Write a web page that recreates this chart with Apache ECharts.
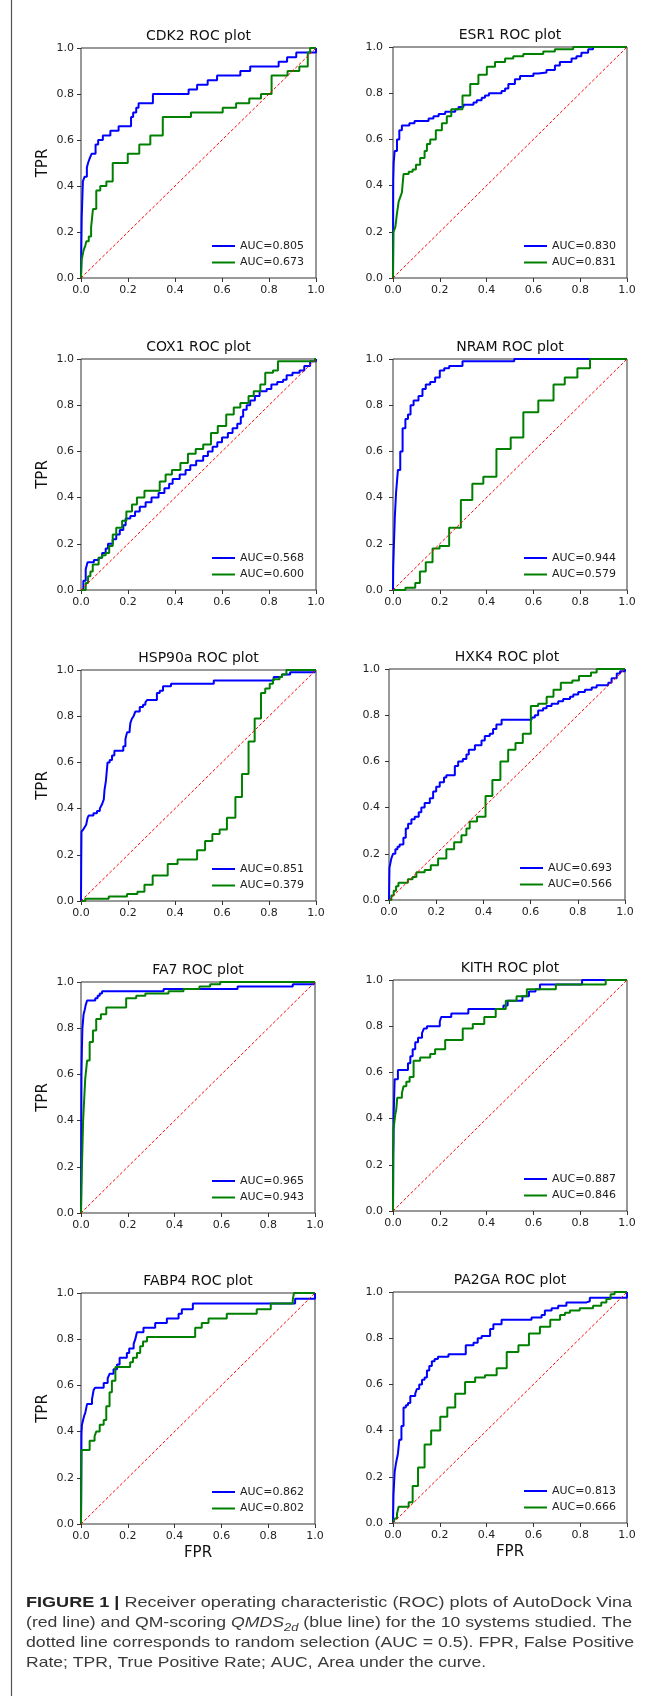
<!DOCTYPE html>
<html>
<head>
<meta charset="utf-8">
<script src="https://cdn.jsdelivr.net/npm/echarts@6/dist/echarts.min.js"></script>
<style>html,body{margin:0;padding:0;background:#fff}#c{width:655px;height:1696px}</style>
</head>
<body>
<div id="c"></div>
<script>
// ---------- data ----------
const panelTitles = ['CDK2 ROC plot','ESR1 ROC plot','COX1 ROC plot','NRAM ROC plot','HSP90a ROC plot','HXK4 ROC plot','FA7 ROC plot','KITH ROC plot','FABP4 ROC plot','PA2GA ROC plot'];
const blueAUC  = ['AUC=0.805','AUC=0.830','AUC=0.568','AUC=0.944','AUC=0.851','AUC=0.693','AUC=0.965','AUC=0.887','AUC=0.862','AUC=0.813'];
const greenAUC = ['AUC=0.673','AUC=0.831','AUC=0.600','AUC=0.579','AUC=0.379','AUC=0.566','AUC=0.943','AUC=0.846','AUC=0.802','AUC=0.666'];
const tickLabels = ['0.0','0.2','0.4','0.6','0.8','1.0'];
const randomLine = [[0,0],[1,1]];

const cdk2Blue = [[0,0],[0.001,0.1],[0.003,0.26],[0.008,0.42],[0.015,0.44],[0.025,0.48],[0.03,0.5],[0.037,0.52],[0.045,0.54],[0.062,0.58],[0.073,0.6],[0.093,0.62],[0.125,0.64],[0.16,0.66],[0.213,0.7],[0.222,0.72],[0.235,0.74],[0.245,0.76],[0.306,0.8],[0.458,0.82],[0.494,0.84],[0.539,0.86],[0.579,0.88],[0.678,0.9],[0.72,0.92],[0.841,0.94],[0.877,0.96],[0.916,0.98],[1,1]];
const cdk2Green = [[0,0],[0.003,0.08],[0.011,0.12],[0.018,0.14],[0.023,0.16],[0.033,0.18],[0.043,0.22],[0.047,0.26],[0.051,0.3],[0.065,0.38],[0.082,0.4],[0.108,0.42],[0.135,0.5],[0.199,0.54],[0.248,0.58],[0.295,0.62],[0.348,0.7],[0.468,0.72],[0.603,0.74],[0.66,0.76],[0.716,0.78],[0.766,0.8],[0.811,0.88],[0.879,0.9],[0.929,0.92],[0.965,0.98],[0.975,1],[1,1]];

const esr1Blue = [[0,0],[0.001,0.42],[0.003,0.5],[0.007,0.55],[0.017,0.6],[0.027,0.64],[0.038,0.66],[0.07,0.67],[0.092,0.68],[0.152,0.69],[0.173,0.7],[0.195,0.71],[0.223,0.72],[0.266,0.73],[0.28,0.74],[0.301,0.75],[0.344,0.76],[0.358,0.77],[0.379,0.78],[0.393,0.79],[0.41,0.8],[0.464,0.81],[0.479,0.82],[0.493,0.84],[0.521,0.86],[0.543,0.875],[0.6,0.885],[0.621,0.89],[0.656,0.9],[0.692,0.92],[0.713,0.935],[0.763,0.95],[0.784,0.96],[0.805,0.975],[0.834,0.99],[0.855,1],[1,1]];
const esr1Green = [[0,0],[0.002,0.2],[0.01,0.22],[0.017,0.28],[0.024,0.33],[0.031,0.35],[0.038,0.37],[0.045,0.45],[0.067,0.46],[0.084,0.47],[0.098,0.49],[0.116,0.52],[0.135,0.55],[0.145,0.58],[0.159,0.6],[0.183,0.64],[0.209,0.67],[0.23,0.7],[0.249,0.73],[0.297,0.79],[0.33,0.84],[0.365,0.88],[0.401,0.915],[0.436,0.935],[0.479,0.95],[0.514,0.96],[0.557,0.97],[0.642,0.98],[0.692,0.99],[0.77,1],[1,1]];

const cox1Blue = [[0,0],[0.01,0.04],[0.02,0.09],[0.028,0.12],[0.055,0.13],[0.075,0.14],[0.09,0.16],[0.105,0.18],[0.115,0.2],[0.135,0.22],[0.15,0.24],[0.165,0.26],[0.18,0.28],[0.19,0.31],[0.21,0.32],[0.23,0.34],[0.25,0.36],[0.275,0.38],[0.3,0.4],[0.33,0.42],[0.355,0.44],[0.375,0.46],[0.39,0.48],[0.42,0.5],[0.445,0.52],[0.465,0.54],[0.49,0.56],[0.52,0.58],[0.54,0.6],[0.56,0.62],[0.58,0.64],[0.6,0.66],[0.625,0.68],[0.645,0.7],[0.665,0.72],[0.68,0.75],[0.69,0.78],[0.705,0.8],[0.72,0.82],[0.74,0.84],[0.76,0.86],[0.79,0.87],[0.81,0.89],[0.835,0.9],[0.86,0.91],[0.875,0.93],[0.9,0.94],[0.93,0.95],[0.95,0.97],[0.975,0.99],[1,1]];
const cox1Green = [[0,0],[0.02,0.03],[0.03,0.06],[0.04,0.08],[0.05,0.11],[0.075,0.14],[0.09,0.15],[0.105,0.16],[0.12,0.19],[0.135,0.24],[0.15,0.27],[0.175,0.3],[0.193,0.34],[0.217,0.37],[0.238,0.4],[0.27,0.43],[0.335,0.47],[0.36,0.5],[0.387,0.52],[0.423,0.55],[0.455,0.59],[0.488,0.61],[0.52,0.63],[0.553,0.68],[0.582,0.71],[0.618,0.76],[0.65,0.79],[0.678,0.81],[0.713,0.84],[0.735,0.86],[0.763,0.89],[0.784,0.94],[0.817,0.95],[0.838,0.99],[0.995,1],[1,1]];

const nramBlue = [[0,0],[0.001,0.1],[0.004,0.2],[0.008,0.32],[0.013,0.42],[0.021,0.52],[0.031,0.6],[0.041,0.7],[0.053,0.74],[0.064,0.76],[0.075,0.8],[0.088,0.82],[0.109,0.84],[0.126,0.87],[0.14,0.89],[0.159,0.9],[0.18,0.92],[0.2,0.95],[0.219,0.96],[0.24,0.97],[0.297,0.99],[0.518,1],[1,1]];
const nramGreen = [[0,0],[0.053,0.01],[0.095,0.03],[0.115,0.08],[0.14,0.12],[0.169,0.18],[0.199,0.19],[0.24,0.27],[0.29,0.39],[0.339,0.46],[0.386,0.49],[0.442,0.61],[0.503,0.66],[0.557,0.77],[0.621,0.82],[0.686,0.89],[0.734,0.92],[0.788,0.96],[0.842,1],[1,1]];

const hsp90aBlue = [[0,0],[0.001,0.18],[0.002,0.3],[0.01,0.31],[0.016,0.32],[0.022,0.33],[0.028,0.36],[0.033,0.37],[0.053,0.38],[0.068,0.39],[0.08,0.4],[0.085,0.41],[0.09,0.42],[0.097,0.44],[0.1,0.48],[0.106,0.52],[0.113,0.6],[0.122,0.61],[0.132,0.63],[0.142,0.65],[0.18,0.67],[0.189,0.7],[0.196,0.73],[0.207,0.74],[0.21,0.77],[0.217,0.79],[0.224,0.8],[0.231,0.82],[0.25,0.84],[0.264,0.85],[0.274,0.86],[0.281,0.87],[0.323,0.9],[0.335,0.91],[0.349,0.93],[0.383,0.94],[0.565,0.955],[0.82,0.97],[0.855,0.98],[0.89,0.99],[0.995,1],[1,1]];
const hsp90aGreen = [[0,0],[0.018,0.01],[0.118,0.02],[0.196,0.03],[0.24,0.04],[0.27,0.07],[0.305,0.11],[0.369,0.16],[0.411,0.18],[0.494,0.22],[0.528,0.26],[0.559,0.29],[0.59,0.31],[0.621,0.36],[0.657,0.45],[0.685,0.55],[0.713,0.69],[0.739,0.79],[0.766,0.9],[0.784,0.92],[0.803,0.94],[0.817,0.96],[0.845,0.97],[0.855,0.98],[0.874,1],[1,1]];

const hxk4Blue = [[0,0],[0.001,0.07],[0.002,0.14],[0.01,0.18],[0.017,0.2],[0.027,0.22],[0.036,0.23],[0.045,0.24],[0.061,0.27],[0.071,0.31],[0.081,0.33],[0.095,0.35],[0.109,0.36],[0.126,0.38],[0.137,0.4],[0.151,0.42],[0.173,0.44],[0.187,0.47],[0.2,0.49],[0.215,0.51],[0.233,0.53],[0.243,0.54],[0.279,0.58],[0.293,0.6],[0.313,0.61],[0.328,0.63],[0.338,0.65],[0.364,0.67],[0.392,0.69],[0.406,0.71],[0.427,0.72],[0.441,0.74],[0.455,0.76],[0.477,0.78],[0.604,0.79],[0.618,0.8],[0.632,0.82],[0.653,0.83],[0.668,0.84],[0.689,0.85],[0.717,0.86],[0.738,0.87],[0.767,0.88],[0.781,0.89],[0.802,0.9],[0.83,0.91],[0.859,0.92],[0.88,0.93],[0.929,0.94],[0.943,0.96],[0.965,0.98],[0.979,0.99],[1,1]];
const hxk4Green = [[0,0],[0.01,0.02],[0.02,0.04],[0.03,0.06],[0.04,0.075],[0.08,0.09],[0.1,0.1],[0.116,0.12],[0.151,0.13],[0.177,0.15],[0.208,0.18],[0.243,0.22],[0.276,0.25],[0.307,0.28],[0.328,0.31],[0.342,0.34],[0.373,0.36],[0.409,0.45],[0.438,0.52],[0.472,0.6],[0.505,0.65],[0.536,0.68],[0.567,0.72],[0.601,0.84],[0.632,0.85],[0.668,0.88],[0.697,0.91],[0.728,0.94],[0.777,0.95],[0.805,0.97],[0.856,0.985],[0.88,1],[1,1]];

const fa7Blue = [[0,0],[0.001,0.3],[0.002,0.6],[0.004,0.72],[0.006,0.8],[0.011,0.86],[0.016,0.88],[0.02,0.9],[0.026,0.92],[0.061,0.93],[0.071,0.94],[0.08,0.95],[0.09,0.96],[0.353,0.97],[0.669,0.98],[0.905,0.99],[0.995,1],[1,1]];
const fa7Green = [[0,0],[0.004,0.2],[0.009,0.4],[0.014,0.5],[0.018,0.58],[0.026,0.66],[0.037,0.74],[0.051,0.79],[0.065,0.84],[0.085,0.86],[0.108,0.89],[0.193,0.93],[0.236,0.94],[0.275,0.95],[0.374,0.96],[0.438,0.97],[0.506,0.98],[0.552,0.99],[0.595,1],[1,1]];

const kithBlue = [[0,0],[0.001,0.25],[0.002,0.3],[0.003,0.42],[0.007,0.57],[0.021,0.61],[0.064,0.64],[0.074,0.67],[0.084,0.7],[0.095,0.73],[0.107,0.75],[0.124,0.77],[0.132,0.79],[0.145,0.8],[0.2,0.82],[0.206,0.84],[0.249,0.855],[0.322,0.875],[0.472,0.89],[0.49,0.91],[0.553,0.93],[0.581,0.95],[0.609,0.96],[0.628,0.98],[0.808,1],[1,1]];
const kithGreen = [[0,0],[0.001,0.2],[0.002,0.35],[0.004,0.37],[0.01,0.42],[0.014,0.44],[0.018,0.49],[0.038,0.51],[0.045,0.54],[0.057,0.56],[0.071,0.58],[0.088,0.65],[0.116,0.665],[0.159,0.68],[0.18,0.7],[0.223,0.74],[0.298,0.79],[0.341,0.81],[0.39,0.84],[0.439,0.875],[0.482,0.91],[0.528,0.93],[0.572,0.96],[0.696,0.98],[0.909,1],[1,1]];

const fabp4Blue = [[0,0],[0.001,0.2],[0.002,0.39],[0.004,0.43],[0.009,0.45],[0.014,0.47],[0.018,0.48],[0.026,0.52],[0.047,0.54],[0.054,0.58],[0.06,0.59],[0.097,0.61],[0.114,0.63],[0.122,0.65],[0.139,0.67],[0.154,0.69],[0.165,0.72],[0.196,0.74],[0.206,0.76],[0.225,0.78],[0.232,0.8],[0.239,0.83],[0.267,0.85],[0.317,0.87],[0.367,0.89],[0.417,0.91],[0.431,0.93],[0.478,0.955],[0.915,0.975],[1,1]];
const fabp4Green = [[0,0],[0.001,0.15],[0.002,0.32],[0.037,0.36],[0.058,0.38],[0.065,0.4],[0.08,0.43],[0.097,0.45],[0.108,0.51],[0.122,0.57],[0.132,0.62],[0.147,0.68],[0.21,0.7],[0.222,0.72],[0.239,0.74],[0.253,0.77],[0.265,0.79],[0.282,0.81],[0.488,0.85],[0.516,0.87],[0.545,0.89],[0.623,0.91],[0.751,0.93],[0.811,0.955],[0.905,0.97],[0.91,1],[1,1]];

const pa2gaBlue = [[0,0],[0.001,0.06],[0.002,0.12],[0.007,0.22],[0.013,0.26],[0.021,0.3],[0.027,0.36],[0.036,0.42],[0.045,0.5],[0.055,0.51],[0.064,0.52],[0.074,0.55],[0.095,0.56],[0.102,0.58],[0.112,0.6],[0.124,0.62],[0.135,0.63],[0.145,0.66],[0.155,0.68],[0.166,0.7],[0.178,0.71],[0.192,0.72],[0.237,0.73],[0.311,0.77],[0.344,0.78],[0.362,0.8],[0.379,0.81],[0.415,0.84],[0.429,0.86],[0.464,0.88],[0.592,0.89],[0.635,0.9],[0.649,0.92],[0.678,0.93],[0.706,0.94],[0.741,0.955],[0.827,0.96],[0.841,0.975],[1,1]];
const pa2gaGreen = [[0,0],[0.007,0.02],[0.017,0.04],[0.024,0.07],[0.067,0.09],[0.084,0.16],[0.107,0.24],[0.135,0.34],[0.163,0.4],[0.202,0.46],[0.232,0.5],[0.266,0.56],[0.308,0.61],[0.351,0.63],[0.393,0.64],[0.443,0.67],[0.486,0.74],[0.536,0.77],[0.581,0.82],[0.628,0.85],[0.672,0.88],[0.714,0.9],[0.735,0.91],[0.756,0.92],[0.798,0.93],[0.855,0.94],[0.89,0.955],[0.912,0.97],[0.93,0.99],[0.947,1],[1,1]];

const blueCurves  = [cdk2Blue, esr1Blue, cox1Blue, nramBlue, hsp90aBlue, hxk4Blue, fa7Blue, kithBlue, fabp4Blue, pa2gaBlue];
const greenCurves = [cdk2Green, esr1Green, cox1Green, nramGreen, hsp90aGreen, hxk4Green, fa7Green, kithGreen, fabp4Green, pa2gaGreen];

const captionLines = [
  '{b|FIGURE 1 |} Receiver operating characteristic (ROC) plots of AutoDock Vina',
  '(red line) and QM-scoring {i|QMDS}{s|2d} (blue line) for the 10 systems studied. The',
  'dotted line corresponds to random selection (AUC = 0.5). FPR, False Positive',
  'Rate; TPR, True Positive Rate; AUC, Area under the curve.'
];

// ---------- layout ----------
const layout = [
  [81,48,235,230],[393,47,234,231],
  [81,359,235,231],[393,359,234,231],
  [81,670,235,231],[389,669,236,231],
  [81,982,234,231],[393,980,234,231],
  [81,1293,234,231],[393,1292,234,231]
];
const FONT = 'DejaVu Sans';
const CAP_FONT = 'Liberation Sans';
const BLUE = '#0000ff', GREEN = '#008000', RED = '#ff0000';

const grids = [], xAxes = [], yAxes = [], legends = [], series = [], graphics = [];

layout.forEach(([l, t, w, h], i) => {
  const rightCol = i % 2 === 1;
  grids.push({left: l, top: t, width: w, height: h, show: true, borderColor: '#333', borderWidth: 1,
    backgroundColor: 'transparent', containLabel: false, outerBoundsMode: 'none'});
  const common = {
    type: 'value', min: 0, max: 1, interval: 0.2, gridIndex: i,
    axisLine: {show: false}, splitLine: {show: false},
    axisTick: {show: true, inside: false, length: 4, lineStyle: {color: '#333', width: 1}},
  };
  xAxes.push(Object.assign({}, common, {
    axisLabel: {fontSize: 11, fontFamily: FONT, color: '#222', margin: 7,
      formatter: v => tickLabels[Math.round(v * 5)]}
  }));
  yAxes.push(Object.assign({}, common, {
    axisLabel: {fontSize: 11, fontFamily: FONT, color: '#222', margin: rightCol ? (i === 5 ? 9 : 10) : 7,
      formatter: v => tickLabels[Math.round(v * 5)]}
  }));
  legends.push({
    data: [blueAUC[i], greenAUC[i]], orient: 'vertical', left: l + 131, top: t + h - 32 - 5.5,
    padding: 0, itemGap: 5.5, itemWidth: 23, itemHeight: 2, icon: 'rect', selectedMode: false,
    textStyle: {fontSize: 11, fontFamily: FONT, color: '#222'}
  });
  series.push({type: 'line', name: blueAUC[i], xAxisIndex: i, yAxisIndex: i, data: blueCurves[i],
    step: 'end', symbol: 'none', color: BLUE, lineStyle: {color: BLUE, width: 2}, z: 2, silent: true});
  series.push({type: 'line', name: greenAUC[i], xAxisIndex: i, yAxisIndex: i, data: greenCurves[i],
    step: 'end', symbol: 'none', color: GREEN, lineStyle: {color: GREEN, width: 2}, z: 2, silent: true});
  series.push({type: 'line', xAxisIndex: i, yAxisIndex: i, data: randomLine, symbol: 'none',
    lineStyle: {color: RED, width: 1, type: [3, 2]}, z: 3, silent: true});

  graphics.push({type: 'text', x: l + w / 2, y: t - 11.7, silent: true,
    style: {text: panelTitles[i], font: '14px "' + FONT + '"', fill: '#111', align: 'center', verticalAlign: 'middle'}});
  if (!rightCol) {
    graphics.push({type: 'text', x: 42.7, y: t + h / 2, rotation: Math.PI / 2, silent: true,
      style: {text: 'TPR', font: '15px "' + FONT + '"', fill: '#111', align: 'center', verticalAlign: 'middle'}});
  }
  if (i >= 8) {
    graphics.push({type: 'text', x: l + w / 2, y: t + h + 29, silent: true,
      style: {text: 'FPR', font: '15px "' + FONT + '"', fill: '#111', align: 'center', verticalAlign: 'middle'}});
  }
});

// left rule of the figure page
graphics.push({type: 'line', silent: true, shape: {x1: 11.5, y1: 0, x2: 11.5, y2: 1696},
  style: {stroke: '#555', lineWidth: 1.2}});

// caption (justified lines via horizontal scale)
const ctx = document.createElement('canvas').getContext('2d');
function tw(font, s) { ctx.font = font; return ctx.measureText(s).width; }
const fBase = '15px "' + CAP_FONT + '"', fBold = 'bold 15px "' + CAP_FONT + '"',
      fIt = 'italic 15px "' + CAP_FONT + '"', fSub = 'italic 11px "' + CAP_FONT + '"';
const natural = [
  tw(fBold, 'FIGURE 1 |') + tw(fBase, ' Receiver operating characteristic (ROC) plots of AutoDock Vina'),
  tw(fBase, '(red line) and QM-scoring ') + tw(fIt, 'QMDS') + tw(fSub, '2d') + tw(fBase, ' (blue line) for the 10 systems studied. The'),
  tw(fBase, 'dotted line corresponds to random selection (AUC = 0.5). FPR, False Positive'),
  tw(fBase, 'Rate; TPR, True Positive Rate; AUC, Area under the curve.')
];
const targetW = [606, 606, 608, 460];
const capY = [1603, 1623, 1643, 1663];
const rich = {
  b: {fontFamily: CAP_FONT, fontSize: 15, fontWeight: 'bold', fontStyle: 'normal', fill: '#222', lineHeight: 20},
  i: {fontFamily: CAP_FONT, fontSize: 15, fontWeight: 'normal', fontStyle: 'italic', fill: '#3a3a3a', lineHeight: 20},
  s: {fontFamily: CAP_FONT, fontSize: 11, fontWeight: 'normal', fontStyle: 'italic', fill: '#3a3a3a', lineHeight: 11, verticalAlign: 'bottom'}
};
captionLines.forEach((txt, k) => {
  graphics.push({type: 'text', x: 26, y: capY[k], scaleX: targetW[k] / natural[k], silent: true,
    style: {text: txt, fontFamily: CAP_FONT, fontSize: 15, fontWeight: 'normal', fill: '#3a3a3a',
      lineHeight: 20, align: 'left', verticalAlign: 'middle', rich: rich}});
});

const chart = echarts.init(document.getElementById('c'), null, {renderer: 'canvas', width: 655, height: 1696});
chart.setOption({
  animation: false,
  backgroundColor: '#fff',
  grid: grids, xAxis: xAxes, yAxis: yAxes, legend: legends, series: series,
  graphic: {elements: graphics}
});
</script>
</body>
</html>
